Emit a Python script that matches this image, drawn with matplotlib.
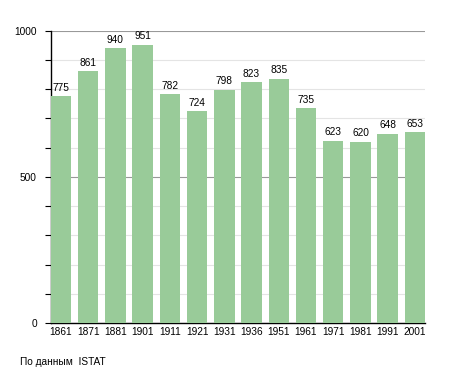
import matplotlib.pyplot as plt
from matplotlib.ticker import MultipleLocator

years = ["1861", "1871", "1881", "1901", "1911", "1921", "1931",
         "1936", "1951", "1961", "1971", "1981", "1991", "2001"]
population = [775, 861, 940, 951, 782, 724, 798, 823, 835, 735, 623, 620, 648, 653]

plt.rcParams['font.family'] = ['Liberation Sans', 'DejaVu Sans']

fig = plt.figure(figsize=(4.55, 3.73), dpi=100)
ax = fig.add_axes([0.1114, 0.134, 0.823, 0.784])

x = range(len(years))
bars = ax.bar(x, population, width=0.75, color="#99cb99", zorder=3)
for xi, v in zip(x, population):
    ax.text(xi, v + 12, str(v), ha="center", va="bottom", fontsize=7.3, zorder=4)

ax.set_xlim(-0.375, len(years) - 0.625)
ax.set_ylim(0, 1000)
ax.set_xticks(list(x))
ax.set_xticklabels(years)
ax.yaxis.set_major_locator(MultipleLocator(500))
ax.yaxis.set_minor_locator(MultipleLocator(100))
ax.grid(axis="y", which="major", color="#999999", linewidth=0.8, zorder=0)
ax.grid(axis="y", which="minor", color="#e4e4e4", linewidth=0.8, zorder=0)
ax.tick_params(axis="x", length=0, pad=3, labelsize=7.3)
ax.tick_params(axis="y", which="both", length=4, width=0.8, pad=6, labelsize=7.3)

for s in ["top", "right"]:
    ax.spines[s].set_visible(False)
ax.spines["left"].set_linewidth(1)
ax.spines["bottom"].set_linewidth(1)

fig.text(0.045, 0.03, "По данным  ISTAT", fontsize=7.3, ha="left", va="center")

fig.savefig("out.png", dpi=100)
